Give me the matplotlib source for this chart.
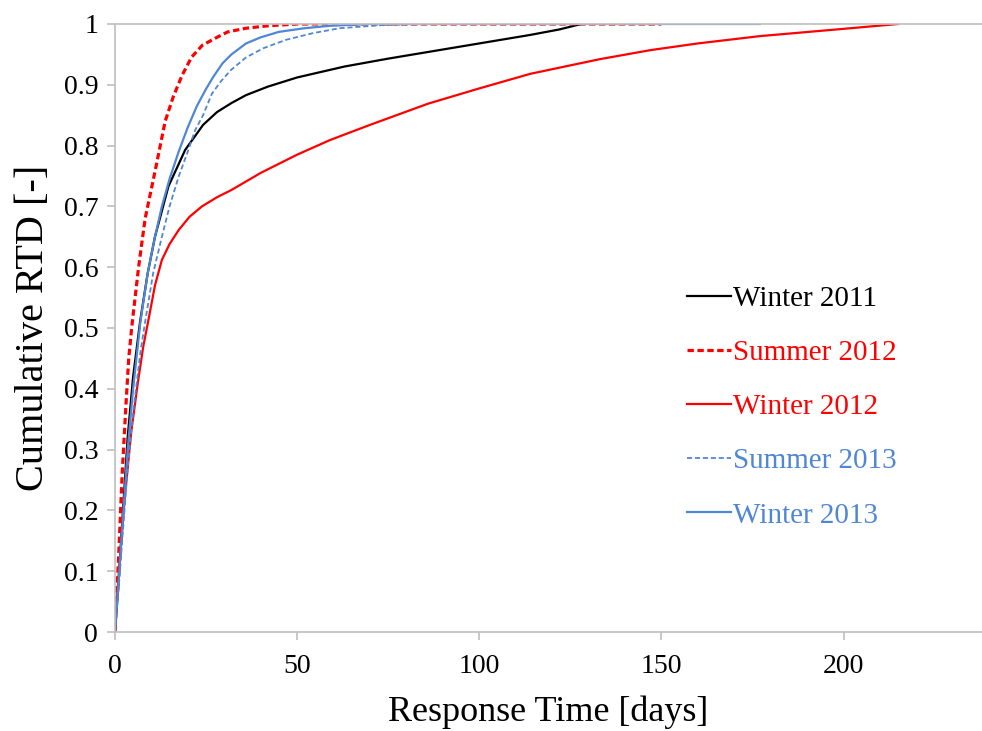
import matplotlib
matplotlib.use('Agg')
import matplotlib.pyplot as plt

plt.rcParams['font.family'] = ['Liberation Serif', 'DejaVu Serif']

# Winter 2011
w11_t = [0, 1, 2, 3.5, 5, 6.9, 9, 11, 14.7, 19.3, 24.2, 28, 32, 36, 42, 50, 63, 75, 86, 100, 114, 122, 128]
w11_v = [0, 0.08, 0.18, 0.32, 0.42, 0.51, 0.59, 0.65, 0.733, 0.793, 0.834, 0.855, 0.87, 0.883, 0.897, 0.912, 0.93, 0.943, 0.954, 0.968, 0.982, 0.991, 1.0]

# Summer 2012
s12_t = [0, 1, 2, 3, 3.8, 4.6, 6.5, 8.3, 11.1, 13.8, 16, 18.4, 21, 24, 28, 31, 36, 42, 50, 150]
s12_v = [0, 0.12, 0.26, 0.37, 0.45, 0.50, 0.60, 0.68, 0.76, 0.84, 0.88, 0.915, 0.945, 0.965, 0.978, 0.987, 0.993, 0.997, 1.0, 1.0]

# Winter 2012
w12_t = [0, 1, 2.7, 4.5, 6.3, 7.8, 9.2, 11, 12.9, 15, 17.5, 20.5, 23.9, 28, 32, 40, 50, 59, 70, 86, 100, 114, 133, 147, 160, 177, 200, 215]
w12_v = [0, 0.09, 0.22, 0.33, 0.41, 0.47, 0.513, 0.57, 0.612, 0.638, 0.661, 0.683, 0.70, 0.715, 0.727, 0.755, 0.785, 0.809, 0.834, 0.869, 0.894, 0.918, 0.942, 0.957, 0.968, 0.98, 0.992, 1.0]

# Summer 2013
s13_t = [0, 1, 2, 3.5, 5, 7, 8.3, 10.5, 12.9, 15, 17.5, 20, 22, 24.2, 26.6, 29, 31.8, 36, 40.7, 47, 54.4, 61.7, 73, 85, 150]
s13_v = [0, 0.07, 0.15, 0.27, 0.36, 0.46, 0.51, 0.59, 0.65, 0.70, 0.749, 0.79, 0.825, 0.85, 0.885, 0.905, 0.924, 0.945, 0.96, 0.974, 0.985, 0.993, 0.998, 1.0, 1.0]

# Winter 2013
w13_t = [0, 1, 2, 3.5, 5, 7, 9, 11, 12.9, 15, 17.5, 20, 22.5, 25, 27, 29.5, 32, 36, 40, 45, 52, 59, 70, 177]
w13_v = [0, 0.08, 0.17, 0.30, 0.40, 0.51, 0.59, 0.65, 0.70, 0.745, 0.79, 0.83, 0.865, 0.893, 0.913, 0.935, 0.95, 0.968, 0.978, 0.987, 0.993, 0.997, 1.0, 1.0]

blue = '#4F86D6'
red = '#FF0000'
grey = '#BFBFBF'

fig = plt.figure(figsize=(9.82, 7.31), dpi=100)
ax = fig.add_axes([0.117, 0.1354, 0.883, 0.8318])

ax.plot(w11_t, w11_v, color='black', lw=1.6, label='Winter 2011')
ax.plot(s12_t, s12_v, color=red, lw=2.3, ls=(0, (2.0, 1.1)), label='Summer 2012')
ax.plot(w12_t, w12_v, color=red, lw=1.6, label='Winter 2012')
ax.plot(s13_t, s13_v, color=blue, lw=1.3, ls=(0, (2.8, 1.6)), label='Summer 2013')
ax.plot(w13_t, w13_v, color=blue, lw=1.6, label='Winter 2013')

ax.set_xlim(0, 238)
ax.set_ylim(0, 1)
ax.set_xticks([0, 50, 100, 150, 200])
ax.set_yticks([i / 10 for i in range(11)])
ax.set_yticklabels(['0', '0.1', '0.2', '0.3', '0.4', '0.5', '0.6', '0.7', '0.8', '0.9', '1'])

for s in ['left', 'bottom', 'top']:
    ax.spines[s].set_color(grey)
    ax.spines[s].set_linewidth(1.2)
ax.spines['right'].set_visible(False)
ax.tick_params(axis='both', direction='out', length=6, width=1.2, color=grey,
               labelsize=20, pad=6)
ax.tick_params(axis='x', pad=10)

ax.set_xlabel('Response Time [days]', fontsize=26, labelpad=12)
ax.set_ylabel('Cumulative RTD [-]', fontsize=29, labelpad=8)

leg = ax.legend(loc='center left', bbox_to_anchor=(0.63, 0.37), frameon=False,
                fontsize=21, handlelength=1.5, handletextpad=0.05,
                labelspacing=0.95, labelcolor='linecolor')

plt.savefig('out.png', dpi=100)
